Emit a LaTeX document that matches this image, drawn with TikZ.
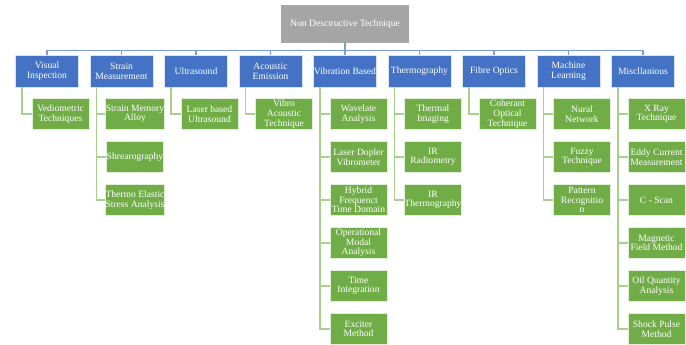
\documentclass[tikz,border=0pt]{standalone}
\usepackage{fontspec}
\setmainfont{Liberation Serif}
\usetikzlibrary{positioning}
\definecolor{rootgray}{HTML}{A5A5A5}
\definecolor{topblue}{HTML}{4472C4}
\definecolor{leafgreen}{HTML}{70AD47}
\definecolor{busblue}{HTML}{7C9CD6}
\definecolor{leafline}{HTML}{A9D18E}

\tikzset{
  rootbox/.style={fill=rootgray, text=white, minimum width=128pt, minimum height=38pt,
    inner sep=0pt, font=\fontsize{9.6}{10}\selectfont},
  topbox/.style={draw=white!80!topblue, line width=0.8pt, fill=topblue, text=white,
    minimum width=63pt, minimum height=32pt, inner sep=0pt, align=center,
    font=\fontsize{9.6}{10.2}\selectfont},
  leafbox/.style={draw=white!80!leafgreen, line width=0.8pt, fill=leafgreen, text=white,
    minimum width=57pt, minimum height=31pt, inner sep=0pt, align=center,
    font=\fontsize{9.6}{9.8}\selectfont},
  busedge/.style={busblue, line width=1.2pt},
  leafedge/.style={leafline, line width=1.4pt}
}

\begin{document}
\begin{tikzpicture}[x=1pt,y=-1pt]
  \useasboundingbox (0,0) rectangle (686,345);

  \node[rootbox] (root) at (345,24) {Non Desctructive Technique};

  % first level
  \foreach \nm/\txt [count=\i from 0] in {vis/{Visual\\Inspection}, str/{Strain\\Measurement},
      ult/Ultrasound, aco/{Acoustic\\Emission}, vib/{Vibration Based}, the/Thermography,
      fib/{Fibre Optics}, mac/{Machine\\Learning}, mis/Miscllanious} {
    \node[topbox] (\nm) at (47+74.5*\i,71) {\txt};
    \draw[busedge] (root.south) -- ++(0,7) -| (\nm.north);
  }

  % second level
  \foreach \txt [count=\k from 0] in {{Vediometric\\Techniques}} {
    \node[leafbox] (vis\k) at ([xshift=13.5pt,yshift=-(26.5+43*\k)*1pt]vis.south) {\txt};
    \draw[leafedge] ([xshift=7pt]vis.south west) |- (vis\k.west);
  }
  \foreach \txt [count=\k from 0] in {{Strain Memory\\Alloy}, Shrearography,
      {Thermo Elastic\\Stress Analysis}} {
    \node[leafbox] (str\k) at ([xshift=13.5pt,yshift=-(26.5+43*\k)*1pt]str.south) {\txt};
    \draw[leafedge] ([xshift=7pt]str.south west) |- (str\k.west);
  }
  \foreach \txt [count=\k from 0] in {{Laser based\\Ultrasound}} {
    \node[leafbox] (ult\k) at ([xshift=13.5pt,yshift=-(26.5+43*\k)*1pt]ult.south) {\txt};
    \draw[leafedge] ([xshift=7pt]ult.south west) |- (ult\k.west);
  }
  \foreach \txt [count=\k from 0] in {{Vibro\\Acoustic\\Technique}} {
    \node[leafbox] (aco\k) at ([xshift=13.5pt,yshift=-(26.5+43*\k)*1pt]aco.south) {\txt};
    \draw[leafedge] ([xshift=7pt]aco.south west) |- (aco\k.west);
  }
  \foreach \txt [count=\k from 0] in {{Wavelate\\Analysis}, {Laser Dopler\\Vibrometer},
      {Hybrid\\Frequenct\\Time Domain}, {Operational\\Modal\\Analysis},
      {Time\\Integration}, {Exciter\\Method}} {
    \node[leafbox] (vib\k) at ([xshift=13.5pt,yshift=-(26.5+43*\k)*1pt]vib.south) {\txt};
    \draw[leafedge] ([xshift=7pt]vib.south west) |- (vib\k.west);
  }
  \foreach \txt [count=\k from 0] in {{Thermal\\Imaging}, {IR\\Radiometry}, {IR\\Thermography}} {
    \node[leafbox] (the\k) at ([xshift=13.5pt,yshift=-(26.5+43*\k)*1pt]the.south) {\txt};
    \draw[leafedge] ([xshift=7pt]the.south west) |- (the\k.west);
  }
  \foreach \txt [count=\k from 0] in {{Coherant\\Optical\\Technique}} {
    \node[leafbox] (fib\k) at ([xshift=13.5pt,yshift=-(26.5+43*\k)*1pt]fib.south) {\txt};
    \draw[leafedge] ([xshift=7pt]fib.south west) |- (fib\k.west);
  }
  \foreach \txt [count=\k from 0] in {{Nural\\Network}, {Fuzzy\\Technique},
      {Pattern\\Recognitio\\n}} {
    \node[leafbox] (mac\k) at ([xshift=13.5pt,yshift=-(26.5+43*\k)*1pt]mac.south) {\txt};
    \draw[leafedge] ([xshift=7pt]mac.south west) |- (mac\k.west);
  }
  \foreach \txt [count=\k from 0] in {{X Ray\\Technique}, {Eddy Current\\Measurement},
      {C - Scan}, {Magnetic\\Field Method}, {Oil Quantity\\Analysis},
      {Shock Pulse\\Method}} {
    \node[leafbox] (mis\k) at ([xshift=13.5pt,yshift=-(26.5+43*\k)*1pt]mis.south) {\txt};
    \draw[leafedge] ([xshift=7pt]mis.south west) |- (mis\k.west);
  }
\end{tikzpicture}
\end{document}
